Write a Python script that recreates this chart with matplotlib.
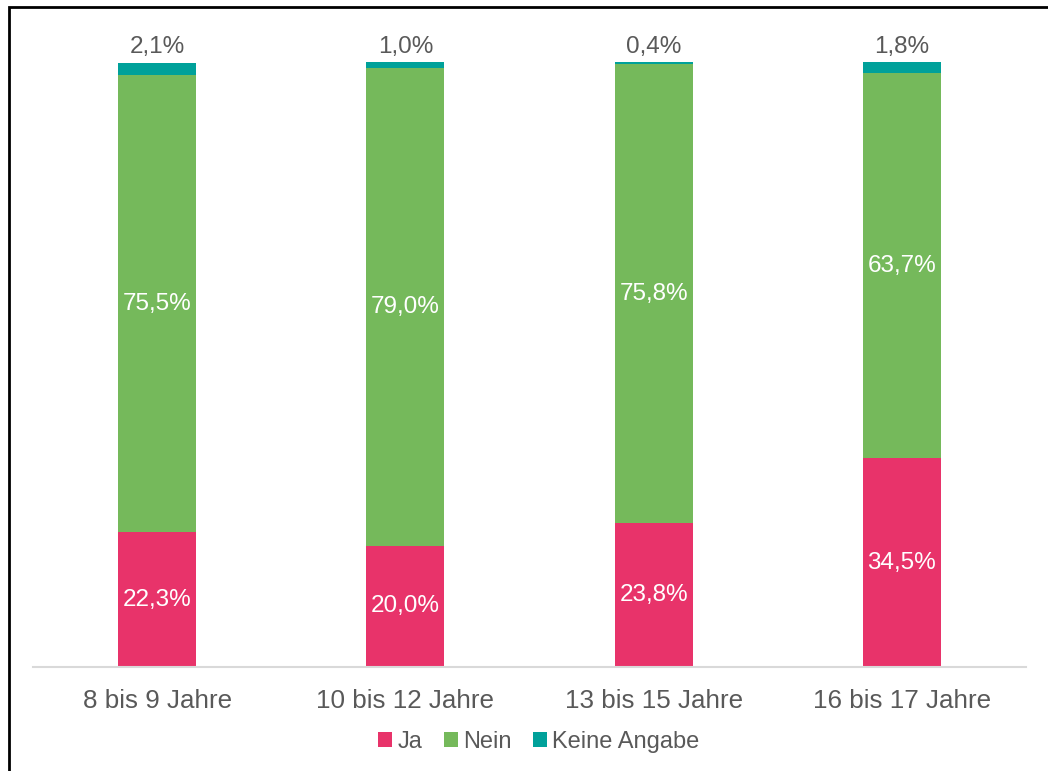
import matplotlib.pyplot as plt
from matplotlib.patches import Rectangle
import numpy as np

plt.rcParams['font.family'] = ['Liberation Sans', 'DejaVu Sans']

groups = ['8 bis 9 Jahre', '10 bis 12 Jahre', '13 bis 15 Jahre', '16 bis 17 Jahre']
ja = [22.3, 20.0, 23.8, 34.5]
nein = [75.5, 79.0, 75.8, 63.7]
keine = [2.1, 1.0, 0.4, 1.8]

c_ja = '#E8336A'
c_nein = '#75B95B'
c_keine = '#00A19A'
grey = '#595959'


def fmt(v):
    return ('%.1f%%' % v).replace('.', ',')


fig = plt.figure(figsize=(10.48, 7.71), dpi=100)
ax = fig.add_axes([0.0315, 0.1349, 0.9475, 0.7847])

x = np.arange(len(groups))
w = 0.315
ax.bar(x, ja, w, color=c_ja, label='Ja')
ax.bar(x, nein, w, bottom=ja, color=c_nein, label='Nein')
bottom2 = np.array(ja) + np.array(nein)
ax.bar(x, keine, w, bottom=bottom2, color=c_keine, label='Keine Angabe')

for i in range(len(groups)):
    ax.text(x[i], ja[i] / 2, fmt(ja[i]), ha='center', va='center',
            color='white', fontsize=17.5)
    ax.text(x[i], ja[i] + nein[i] / 2, fmt(nein[i]), ha='center', va='center',
            color='white', fontsize=17.5)
    ax.text(x[i], bottom2[i] + keine[i] + 0.7, fmt(keine[i]), ha='center',
            va='bottom', color=grey, fontsize=17.5, clip_on=False)

ax.set_xlim(-0.5, 3.5)
ax.set_ylim(0, 100)
ax.set_xticks(x)
ax.set_xticklabels(groups, fontsize=18.7, color=grey)
ax.tick_params(axis='x', length=0, pad=16)
ax.set_yticks([])
for s in ['top', 'right', 'left']:
    ax.spines[s].set_visible(False)
ax.spines['bottom'].set_color('#D9D9D9')
ax.spines['bottom'].set_linewidth(1.5)

leg = fig.legend(loc='center', bbox_to_anchor=(0.514, 0.038), ncol=3, frameon=False,
                 fontsize=17, handlelength=0.6, handleheight=0.6,
                 handletextpad=0.22, columnspacing=0.9)
for t in leg.get_texts():
    t.set_color(grey)

# outer frame (only top and left edges visible in the reference)
fig.patches.append(Rectangle((9 / 1048, -0.05), 1.2, 1 - 7 / 771 + 0.05,
                             transform=fig.transFigure, fill=False,
                             edgecolor='black', linewidth=2, zorder=10))

fig.savefig('out.png', dpi=100)
